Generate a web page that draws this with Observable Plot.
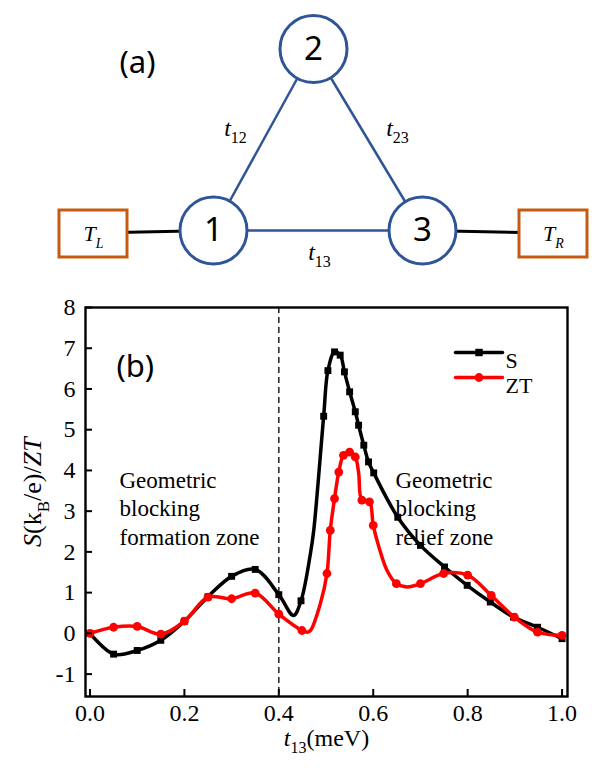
<!DOCTYPE html>
<html><head><meta charset="utf-8">
<script src="https://cdn.jsdelivr.net/npm/d3@7"></script>
<script src="https://cdn.jsdelivr.net/npm/@observablehq/plot@0.6"></script>
<style>
html,body{margin:0;padding:0;background:#fff;}
#wrap{width:610px;}
#wrap svg{display:block;}
#wrap svg text.serif, #wrap svg .serif text{font-family:"Liberation Serif","Times New Roman","DejaVu Serif",serif !important;}
</style></head><body><div id="wrap"></div>
<script>
// ---------- (b) chart data ----------
// S (k_B/e) : black squares
const sX = [0, 0.05, 0.1, 0.15, 0.2, 0.25, 0.3, 0.35, 0.4, 0.447, 0.495, 0.504, 0.518, 0.53, 0.539, 0.55, 0.562, 0.569, 0.58, 0.59, 0.601, 0.652, 0.7, 0.751, 0.799, 0.848, 0.897, 0.948, 1.0];
const sY = [0, -0.51, -0.42, -0.17, 0.3, 0.9, 1.4, 1.57, 0.95, 0.8, 5.33, 6.45, 6.91, 6.83, 6.42, 5.93, 5.44, 5.11, 4.62, 4.21, 3.94, 2.85, 2.16, 1.63, 1.18, 0.77, 0.4, 0.15, -0.13];
// extra points along the S curve (no marker)
const sCurveX = [0.431, 0.467, 0.474];
const sCurveY = [0.44, 1.96, 2.53];
// ZT : red circles
const ztX = [0, 0.05, 0.1, 0.15, 0.2, 0.25, 0.3, 0.35, 0.4, 0.449, 0.502, 0.509, 0.518, 0.527, 0.537, 0.55, 0.562, 0.576, 0.592, 0.6, 0.649, 0.7, 0.749, 0.8, 0.85, 0.899, 0.948, 1.0];
const ztY = [0, 0.15, 0.17, -0.02, 0.3, 0.89, 0.85, 0.99, 0.47, 0.07, 1.47, 2.53, 3.31, 3.96, 4.37, 4.45, 4.33, 3.27, 3.23, 2.65, 1.22, 1.22, 1.47, 1.43, 0.93, 0.4, 0.03, -0.05];
// extra points along the ZT curve (no marker)
const ztCurveX = [0.46, 0.467, 0.488, 0.569, 0.612, 0.629, 0.672];
const ztCurveY = [0.03, 0.07, 0.73, 3.95, 2.12, 1.55, 1.14];

const xTicks = [0, 0.2, 0.4, 0.6, 0.8, 1.0];
const yTicks = [-1, 0, 1, 2, 3, 4, 5, 6, 7, 8];
const dividerX = [0.4];
const seriesNames = ["S", "ZT"];
const seriesColors = ["#000000", "#ff0000"];
const seriesSymbols = ["square", "circle"];
const zoneTexts = ["Geometric\nblocking\nformation zone", "Geometric\nblocking\nrelief zone"];
const xLabel = "t13(meV)";
const yLabel = "S(kB/e)/ZT";

// ---------- (a) diagram content ----------
const nodeNames = ["1", "2", "3"];
const edgePairs = [[0, 1], [1, 2], [0, 2]];
const edgeNames = ["t12", "t23", "t13"];
const bathNames = ["TL", "TR"];
const bathNode = [0, 2];

// layout of the schematic (pixels)
const nodePos = [[213, 230], [313, 48.5], [422, 230]];
const edgeLabelPos = [[235, 128], [397, 128], [319, 252]];
const bathBox = [[59, 127, 210, 257], [519, 587, 210, 257]];

const serif = "Liberation Serif, Times New Roman, DejaVu Serif, serif";
const sans = "Noto Sans, Open Sans, sans-serif";

const toRows = (xs, ys) => xs.map((x, i) => ({x, y: ys[i]}));
const sMarks = toRows(sX, sY);
const sCurve = sMarks.concat(toRows(sCurveX, sCurveY)).sort((a, b) => a.x - b.x);
const ztMarks = toRows(ztX, ztY);
const ztCurve = ztMarks.concat(toRows(ztCurveX, ztCurveY)).sort((a, b) => a.x - b.x);

// ---------- diagram ----------
const nodes = nodeNames.map((n, i) => ({n, x: nodePos[i][0], y: nodePos[i][1]}));
const edges = edgePairs.map(([a, b], i) => ({x1: nodes[a].x, y1: nodes[a].y, x2: nodes[b].x, y2: nodes[b].y, name: edgeNames[i], lx: edgeLabelPos[i][0], ly: edgeLabelPos[i][1]}));
const baths = bathNames.map((n, i) => ({n, x1: bathBox[i][0], x2: bathBox[i][1], y1: bathBox[i][2], y2: bathBox[i][3], cx: (bathBox[i][0] + bathBox[i][1]) / 2, cy: (bathBox[i][2] + bathBox[i][3]) / 2, node: nodes[bathNode[i]]}));

const blue = "#2f5597", orange = "#c55a11";
const diagram = Plot.plot({
  width: 610, height: 290, margin: 0,
  x: {domain: [0, 610], range: [0, 610], axis: null},
  y: {domain: [0, 290], range: [0, 290], axis: null},
  style: {background: "white"},
  marks: [
    Plot.link(baths, {x1: "cx", y1: d => d.cy - 1, x2: d => d.node.x, y2: d => d.node.y, stroke: "black", strokeWidth: 3}),
    Plot.link(edges, {x1: "x1", y1: "y1", x2: "x2", y2: "y2", stroke: blue, strokeWidth: 2.5}),
    Plot.rect(baths, {x1: "x1", x2: "x2", y1: "y1", y2: "y2", fill: "white", stroke: orange, strokeWidth: 3}),
    Plot.dot(nodes, {x: "x", y: "y", r: 33.5, fill: "white", stroke: blue, strokeWidth: 3}),
    Plot.text(nodes, {x: "x", y: "y", text: "n", fontSize: 33, fontFamily: sans, fill: "black"}),
    Plot.text(edges, {x: "lx", y: "ly", text: "name", fontSize: 24, fontFamily: serif, fill: "black", className: "serif"}),
    Plot.text(baths, {x: "cx", y: "cy", text: "n", fontSize: 22, fontFamily: serif, fill: "black", className: "serif"}),
    Plot.text(["(a)"], {frameAnchor: "top-left", dx: 119, dy: 50, textAnchor: "start", fontSize: 31, fontFamily: sans, fill: "black"})
  ]
});

// ---------- chart ----------
const vecShape = {draw(ctx, l) { ctx.moveTo(0, 0); ctx.lineTo(0, -l); }};
const legendMarks = seriesNames.flatMap((n, i) => [
  Plot.vector([n], {frameAnchor: "top-left", dx: 393.5, dy: 45 + 25 * i, length: 47, rotate: 90, anchor: "middle", shape: vecShape, stroke: seriesColors[i], strokeWidth: 3.5}),
  Plot.dot([n], {frameAnchor: "top-left", dx: 393.5, dy: 45 + 25 * i, symbol: seriesSymbols[i], r: i === 0 ? 4.2 : 4.4, fill: seriesColors[i]}),
  Plot.text([n], {frameAnchor: "top-left", dx: 420, dy: 45 + 25 * i, textAnchor: "start", fontSize: 22, fontFamily: serif, fill: "black", className: "serif"})
]);

const chart = Plot.plot({
  width: 610, height: 481,
  marginLeft: 85, marginRight: 43, marginTop: 17, marginBottom: 75,
  x: {domain: [-0.0095, 1.0115]},
  y: {domain: [-1.55, 8]},
  className: "serif",
  style: {fontFamily: serif, background: "white", color: "black"},
  marks: [
    Plot.ruleX(dividerX, {stroke: "#222", strokeWidth: 1.5, strokeDasharray: "6,4"}),
    Plot.line(sCurve, {x: "x", y: "y", curve: "catmull-rom", stroke: seriesColors[0], strokeWidth: 3.5}),
    Plot.dot(sMarks, {x: "x", y: "y", symbol: seriesSymbols[0], r: 3.9, fill: seriesColors[0]}),
    Plot.line(ztCurve, {x: "x", y: "y", curve: "catmull-rom", stroke: seriesColors[1], strokeWidth: 3.5}),
    Plot.dot(ztMarks, {x: "x", y: "y", symbol: seriesSymbols[1], r: 4.4, fill: seriesColors[1]}),
    Plot.frame({stroke: "black", strokeWidth: 2.4}),
    Plot.axisY(yTicks, {tickSize: -7, tickPadding: 17, strokeWidth: 2, fontSize: 24, fontFamily: serif, tickFormat: d => String(d), label: null}),
    Plot.axisX(xTicks, {tickSize: -7, tickPadding: 14, strokeWidth: 2, fontSize: 24, fontFamily: serif, tickFormat: d3.format(".1f"), label: null}),
    Plot.text([yLabel], {frameAnchor: "left", dx: -53, dy: 45, rotate: -90, fontSize: 26, fontFamily: serif, fill: "black"}),
    Plot.text([xLabel], {frameAnchor: "bottom", dy: 49, fontSize: 24, fontFamily: serif, fill: "black"}),
    Plot.text(["(b)"], {frameAnchor: "top-left", dx: 31, dy: 47, textAnchor: "start", fontSize: 31, fontFamily: sans, fill: "black", className: "sansx"}),
    Plot.text([zoneTexts[0]], {frameAnchor: "top-left", dx: 34, dy: 160, textAnchor: "start", lineHeight: 1.24, fontSize: 23, fontFamily: serif, fill: "black"}),
    Plot.text([zoneTexts[1]], {frameAnchor: "top-left", dx: 310, dy: 160, textAnchor: "start", lineHeight: 1.24, fontSize: 23, fontFamily: serif, fill: "black"}),
    ...legendMarks
  ]
});

const wrap = document.getElementById("wrap");
wrap.appendChild(diagram);
wrap.appendChild(chart);

// apply serif font directly on text nodes (except the panel tag)
d3.select(chart).selectAll("text").each(function() {
  if (this.textContent !== "(b)") this.style.fontFamily = '"Liberation Serif","Times New Roman","DejaVu Serif",serif';
});
d3.select(diagram).selectAll("text").each(function() {
  if (/^[tT]/.test(this.textContent)) this.style.fontFamily = '"Liberation Serif","Times New Roman","DejaVu Serif",serif';
});

// rich text: italics and subscripts
function rich(svg, content, parts, base) {
  d3.select(svg).selectAll("text").filter(function() { return this.textContent === content && this.childElementCount === 0; }).each(function() {
    const t = d3.select(this);
    t.text(null);
    let shift = 0;
    for (const p of parts) {
      const ts = t.append("tspan").text(p.t);
      if (p.i) ts.attr("font-style", "italic");
      if (p.sub) {
        const s = Math.round(base * 0.3);
        ts.attr("font-size", p.sub).attr("dy", s - shift);
        shift = s;
      } else if (shift) {
        ts.attr("dy", -shift);
        shift = 0;
      }
    }
  });
}
rich(chart, yLabel, [{t: "S", i: true}, {t: "(k"}, {t: "B", sub: 17}, {t: "/e)/"}, {t: "ZT", i: true}], 26);
rich(chart, xLabel, [{t: "t", i: true}, {t: "13", sub: 16}, {t: "(meV)"}], 24);
for (const e of edgeNames) rich(diagram, e, [{t: e[0], i: true}, {t: e.slice(1), sub: 16}], 24);
for (const b of bathNames) rich(diagram, b, [{t: b[0], i: true}, {t: b.slice(1), sub: 14, i: true}], 22);
</script></body></html>
